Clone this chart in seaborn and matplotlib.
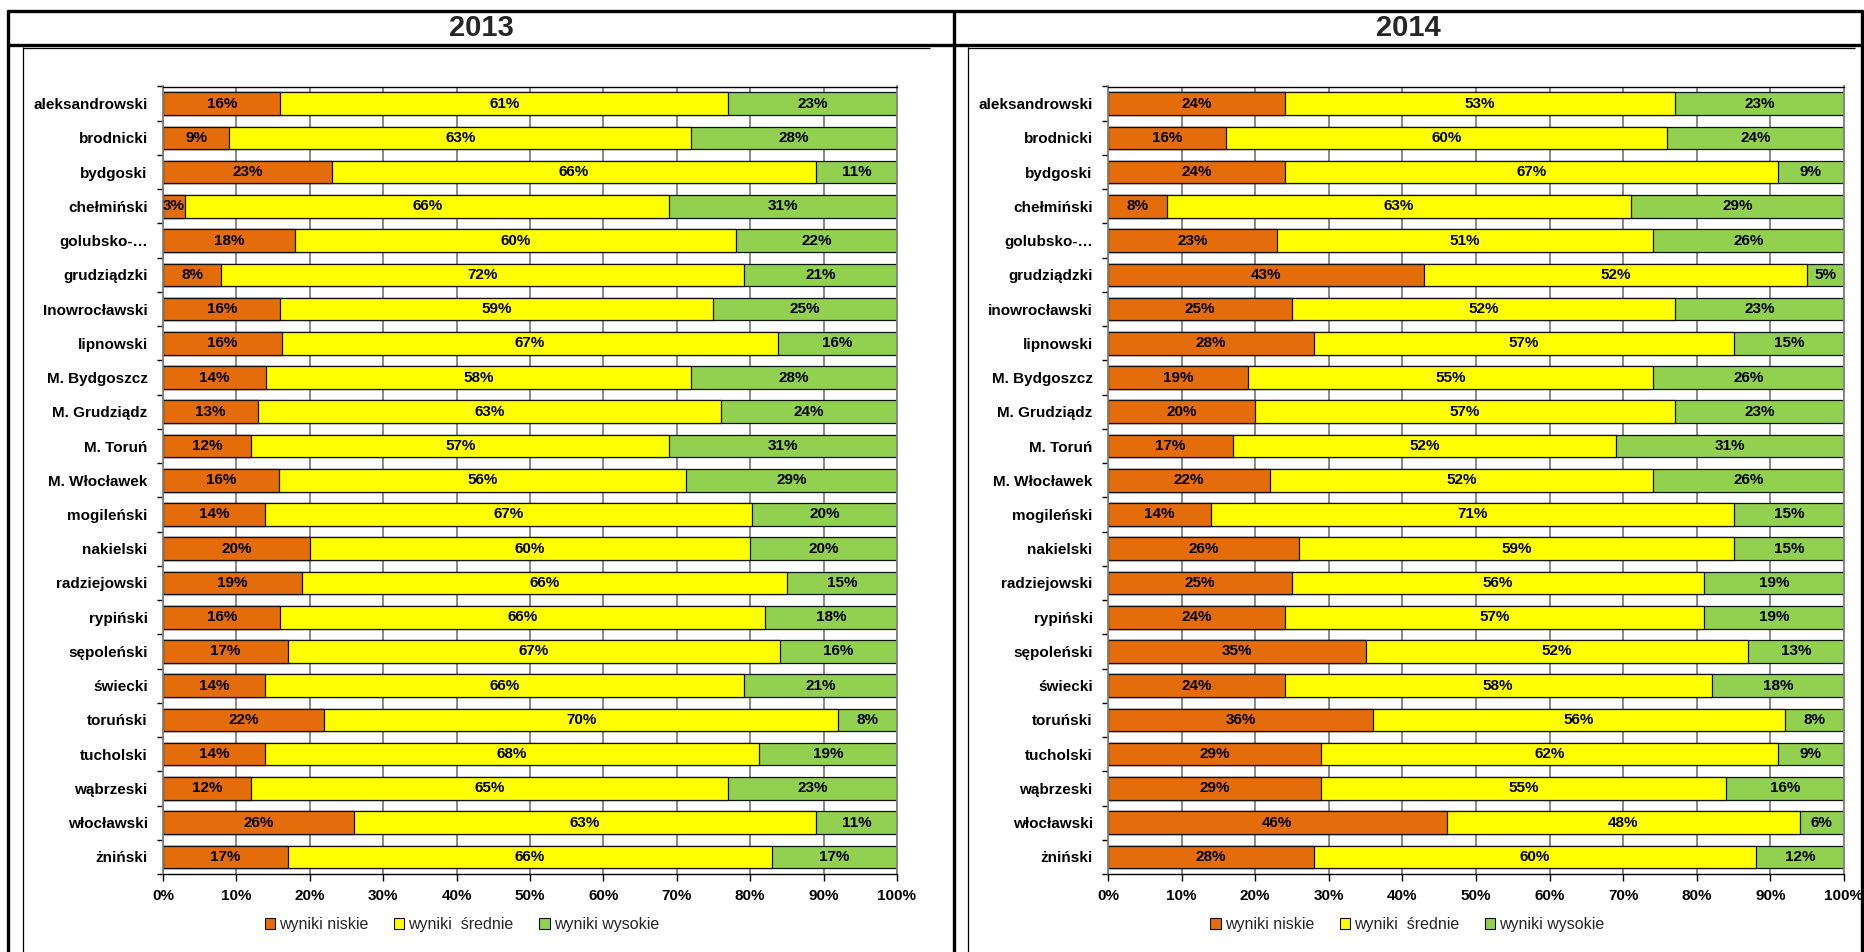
import numpy as np
import pandas as pd
import seaborn as sns
import matplotlib
matplotlib.use("Agg")
import matplotlib.pyplot as plt
from matplotlib.lines import Line2D
from matplotlib.patches import Patch

categories_2013 = ["aleksandrowski", "brodnicki", "bydgoski", "chełmiński", "golubsko-…",
                   "grudziądzki", "Inowrocławski", "lipnowski", "M. Bydgoszcz", "M. Grudziądz",
                   "M. Toruń", "M. Włocławek", "mogileński", "nakielski", "radziejowski",
                   "rypiński", "sępoleński", "świecki", "toruński", "tucholski",
                   "wąbrzeski", "włocławski", "żniński"]
categories_2014 = ["aleksandrowski", "brodnicki", "bydgoski", "chełmiński", "golubsko-…",
                   "grudziądzki", "inowrocławski", "lipnowski", "M. Bydgoszcz", "M. Grudziądz",
                   "M. Toruń", "M. Włocławek", "mogileński", "nakielski", "radziejowski",
                   "rypiński", "sępoleński", "świecki", "toruński", "tucholski",
                   "wąbrzeski", "włocławski", "żniński"]

niskie_2013 = [16, 9, 23, 3, 18, 8, 16, 16, 14, 13, 12, 16, 14, 20, 19, 16, 17, 14, 22, 14, 12, 26, 17]
srednie_2013 = [61, 63, 66, 66, 60, 72, 59, 67, 58, 63, 57, 56, 67, 60, 66, 66, 67, 66, 70, 68, 65, 63, 66]
wysokie_2013 = [23, 28, 11, 31, 22, 21, 25, 16, 28, 24, 31, 29, 20, 20, 15, 18, 16, 21, 8, 19, 23, 11, 17]

niskie_2014 = [24, 16, 24, 8, 23, 43, 25, 28, 19, 20, 17, 22, 14, 26, 25, 24, 35, 24, 36, 29, 29, 46, 28]
srednie_2014 = [53, 60, 67, 63, 51, 52, 52, 57, 55, 57, 52, 52, 71, 59, 56, 57, 52, 58, 56, 62, 55, 48, 60]
wysokie_2014 = [23, 24, 9, 29, 26, 5, 23, 15, 26, 23, 31, 26, 15, 15, 19, 19, 13, 18, 8, 9, 16, 6, 12]

series_names = ["wyniki niskie", "wyniki  średnie", "wyniki wysokie"]
years = ["2013", "2014"]
x_ticks = list(range(0, 101, 10))

colors = ["#E46C0A", "#FFFF00", "#92D050"]

sns.set_theme(style="white")
plt.rcParams["font.family"] = ["Liberation Sans", "DejaVu Sans"]

W, H = 1865, 952
fig = plt.figure(figsize=(W / 100, H / 100), dpi=100)
fig.patch.set_facecolor("white")

def fx(px):
    return px / W

def fy(py):
    return 1 - py / H

plot_top, plot_bot = 86.5, 874
panels = [
    (categories_2013, niskie_2013, srednie_2013, wysokie_2013, 163, 897),
    (categories_2014, niskie_2014, srednie_2014, wysokie_2014, 1108, 1844),
]

for (cats, lo, mid, hi, x0, x1) in panels:
    ax = fig.add_axes([fx(x0), fy(plot_bot), fx(x1 - x0), (plot_bot - plot_top) / H])
    lo = np.array(lo, float); mid = np.array(mid, float); hi = np.array(hi, float)
    tot = lo + mid + hi
    # 100% stacked: shares of each row total
    plo, pmid, phi = lo / tot * 100, mid / tot * 100, hi / tot * 100
    df = pd.DataFrame({"cat": cats, "lo": plo, "lomid": plo + pmid, "all": plo + pmid + phi})
    for col, c in zip(["all", "lomid", "lo"], colors[::-1]):
        sns.barplot(data=df, x=col, y="cat", order=cats, color=c, width=0.66,
                    edgecolor="#111111", linewidth=0.9, saturation=1, ax=ax, zorder=2)
    for i in range(len(cats)):
        starts = [0, plo[i], plo[i] + pmid[i]]
        widths = [plo[i], pmid[i], phi[i]]
        vals = [lo[i], mid[i], hi[i]]
        for s, w, v in zip(starts, widths, vals):
            ax.text(s + w / 2, i, f"{int(v)}%", ha="center", va="center",
                    fontsize=11, fontweight="bold", color="black", zorder=5)
    ax.set_xlim(0, 100)
    ax.set_ylim(len(cats) - 0.5, -0.5)
    ax.set_xticks(x_ticks)
    ax.set_xticklabels([f"{t}%" for t in x_ticks], fontsize=11, fontweight="bold")
    ax.set_xlabel("")
    ax.set_ylabel("")
    ax.set_yticks(range(len(cats)))
    ax.set_yticklabels(cats, fontsize=11, fontweight="bold")
    ax.set_yticks(np.arange(-0.5, len(cats), 1), minor=True)
    ax.tick_params(axis="y", which="major", length=0, pad=11, colors="black")
    ax.tick_params(axis="y", which="minor", length=4, width=1, color="black", direction="out", left=True)
    ax.tick_params(axis="x", which="major", length=5, width=1, color="black", direction="out",
                   bottom=True, pad=6, labelcolor="black")
    ax.set_axisbelow(True)
    ax.xaxis.grid(True, color="#808080", linewidth=1.3)
    ax.yaxis.grid(False)
    for side in ["top", "bottom"]:
        ax.spines[side].set_color("black")
        ax.spines[side].set_linewidth(1.0)
    ax.spines["left"].set_color("#808080")
    ax.spines["left"].set_linewidth(1.3)
    ax.spines["right"].set_color("#808080")
    ax.spines["right"].set_linewidth(1.3)
    handles = [Patch(facecolor=c, edgecolor="#111111", linewidth=0.8) for c in colors]
    ax.legend(handles, series_names, loc="center", bbox_to_anchor=(0.407, -0.064),
              ncol=3, frameon=False, fontsize=11.5, handlelength=0.65, handleheight=0.65,
              handletextpad=0.25, columnspacing=1.6)

def hline(y, xa, xb, lw):
    fig.add_artist(Line2D([fx(xa), fx(xb)], [fy(y), fy(y)], color="black", linewidth=lw,
                          transform=fig.transFigure, solid_capstyle="butt"))

def vline(x, ya, yb, lw):
    fig.add_artist(Line2D([fx(x), fx(x)], [fy(ya), fy(yb)], color="black", linewidth=lw,
                          transform=fig.transFigure, solid_capstyle="butt"))

hline(11, 7, 1863, 2.4)
hline(45, 7, 1863, 2.4)
vline(8, 10, 952, 2.4)
vline(954, 10, 952, 2.4)
vline(1862, 10, 952, 2.4)
hline(47.5, 23, 930, 0.9)
vline(23, 47, 952, 0.9)
hline(47.5, 968, 1855, 0.9)
vline(968, 47, 952, 0.9)

fig.text(fx(481), fy(28), years[0], ha="center", va="center", fontsize=21, fontweight="bold")
fig.text(fx(1408), fy(28), years[1], ha="center", va="center", fontsize=21, fontweight="bold")

fig.savefig("out.png", dpi=100, facecolor="white")
